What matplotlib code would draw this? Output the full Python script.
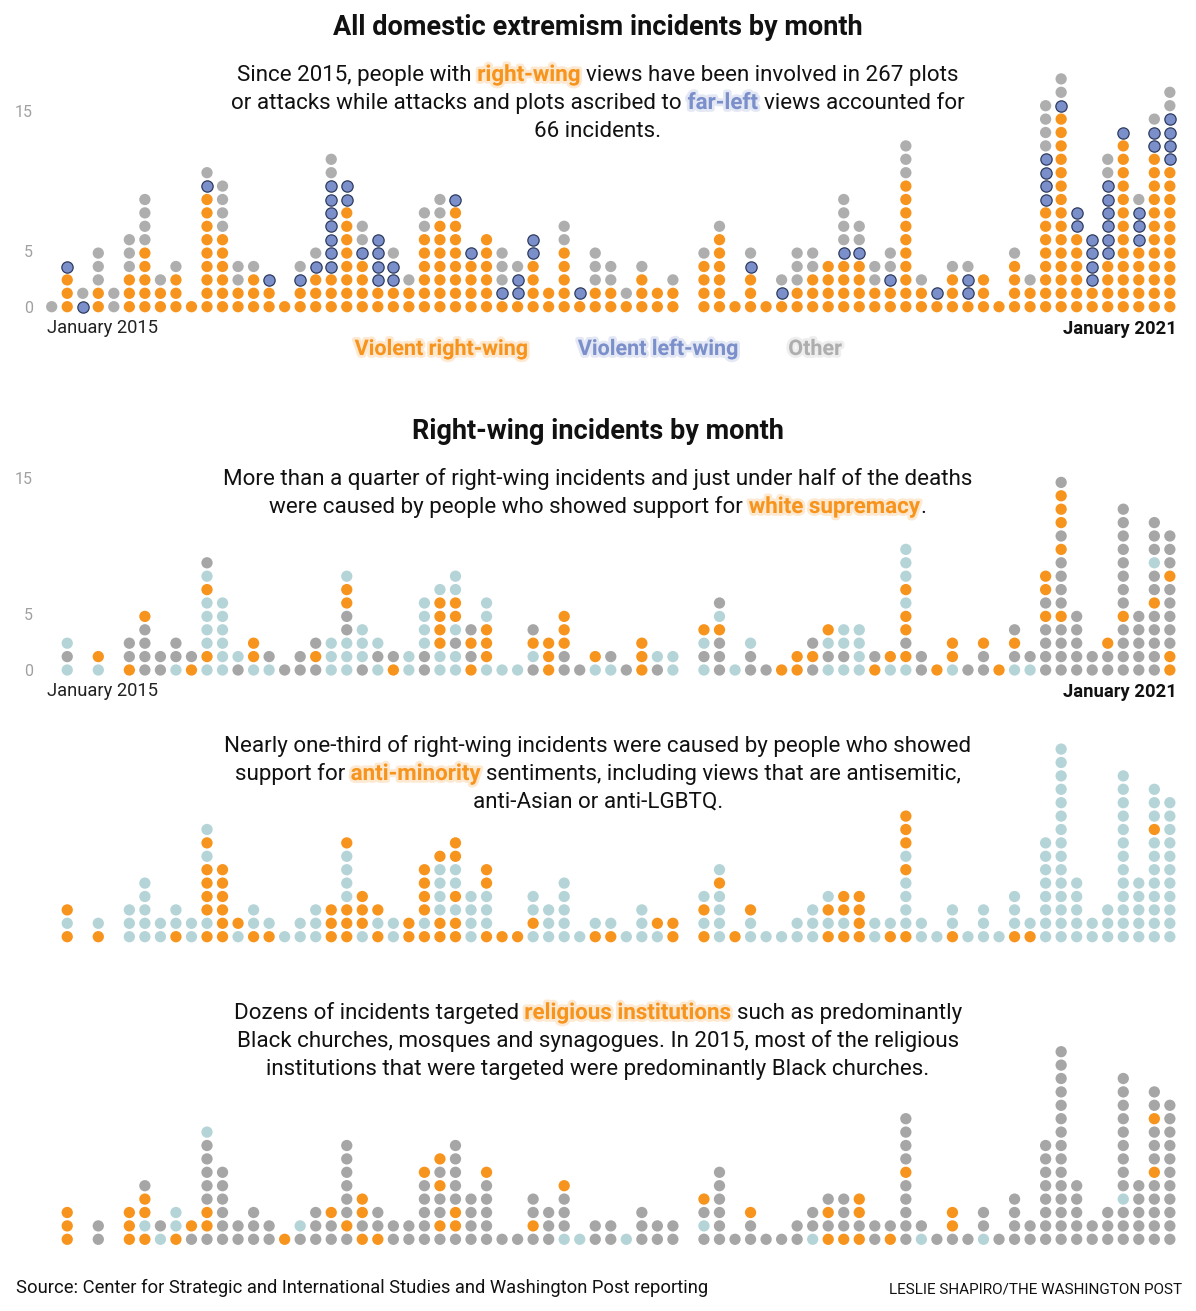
import re
import matplotlib
matplotlib.use("Agg")
import matplotlib.pyplot as plt
import matplotlib.patheffects as pe
import numpy as np
import pandas as pd

# ---------------- data ----------------
months = pd.date_range("2015-01-01", "2021-01-01", freq="MS")  # 73 months

# Panel 1: incidents per month by ideology
right_wing = [0, 3, 0, 2, 0, 3, 5, 2, 3, 1, 9, 6, 2, 3, 2, 1, 2, 3, 3, 8, 4, 2, 2, 2, 6,
              7, 8, 4, 6, 1, 1, 4, 2, 5, 1, 2, 2, 1, 3, 2, 2, 0, 4, 6, 1, 3, 1, 1, 2,
              3, 4, 4, 4, 2, 2, 10, 2, 1, 3, 1, 3, 1, 4, 2, 8, 15, 6, 2, 4, 13, 5, 12, 11]
left_wing = [0, 1, 1, 0, 0, 0, 0, 0, 0, 0, 1, 0, 0, 0, 1, 0, 1, 1, 7, 2, 1, 4, 2, 0, 0,
             0, 1, 1, 0, 1, 2, 2, 0, 0, 1, 0, 0, 0, 0, 0, 0, 0, 0, 0, 0, 1, 0, 1, 0,
             0, 0, 1, 1, 0, 1, 0, 0, 1, 0, 2, 0, 0, 0, 0, 4, 1, 2, 4, 6, 1, 3, 2, 4]
other = [1, 0, 1, 3, 2, 3, 4, 1, 1, 0, 1, 4, 2, 1, 0, 0, 1, 1, 2, 0, 2, 0, 1, 1, 2,
         2, 0, 0, 0, 3, 1, 0, 0, 2, 0, 3, 2, 1, 1, 0, 1, 0, 1, 1, 0, 1, 0, 1, 3,
         2, 0, 4, 2, 2, 2, 3, 1, 0, 1, 1, 0, 0, 1, 1, 4, 2, 0, 0, 2, 0, 1, 1, 2]

# Panels 2-4: right-wing incidents, one letter per incident (bottom to top)
# O = highlighted category, T = light teal, G = gray
white_supremacy_seq = [
    "", "TGT", "", "TO", "", "OGG", "GGGGO", "GG", "TGG", "OG", "TOTTTTOTG", "TTTTTT",
    "GT", "TOO", "TG", "G", "GG", "GOG", "TTT", "TTTGGOOT", "GTTT", "TGT", "OG", "TT",
    "GGTTTT", "TTOOOOT", "TTGTOOTT", "OGOG", "TOOOTT", "T", "T", "GTOG", "OOO", "GGOOO",
    "G", "TO", "TG", "G", "OOO", "GT", "TT", "", "TGTO", "GGGOTG", "T", "GGT", "G", "O",
    "OO", "GOG", "TGTO", "TGTT", "TTTT", "OG", "TO", "TOGOOTOTTT", "GG", "O", "TOO", "G",
    "GGO", "O", "TGOG", "TG", "GGGGOGOO", "GGGGOGGGGOGOOOG", "GGGGG", "GG", "GGO",
    "GGGGOGGGGGGGG", "GGGGG", "GGGGGOGGTGGG", "OOGGGGGOGGG"]
anti_minority_seq = [
    "", "OTO", "", "OT", "", "TTT", "TTTTT", "TT", "OTT", "TT", "OTOOOOTOT", "OOOOOO",
    "TO", "OTT", "OT", "T", "TT", "TTT", "OOO", "OOOTTTTO", "TOOO", "OTO", "TT", "OO",
    "OTOOOO", "OOTTTTO", "OOTOTTOO", "TTTT", "OTTTOO", "O", "O", "TOTT", "TTT", "TTTTT",
    "T", "OT", "OT", "T", "TTT", "TO", "OO", "", "OTOT", "TTTTOT", "O", "TTO", "T", "T",
    "TT", "TTT", "OTOT", "OTOO", "OOOO", "TT", "OT", "OTTTTOTOOO", "TT", "T", "OTT", "T",
    "TTT", "T", "OTTT", "OT", "TTTTTTTT", "TTTTTTTTTTTTTTT", "TTTTT", "TT", "TTT",
    "TTTTTTTTTTTTT", "TTTTT", "TTTTTTTTOTTT", "TTTTTTTTTTT"]
religious_seq = [
    "", "OOO", "", "GG", "", "OOO", "OTOOG", "TG", "OTT", "GO", "GOOGGGGGT", "GGGGGG",
    "GG", "GGG", "GG", "O", "GT", "GGG", "GGO", "GOGGGGGG", "OGOO", "OGG", "GG", "GG",
    "GGGGGO", "GOGGOGO", "GOOGGGGG", "GGGG", "GGGGGO", "G", "G", "GOGG", "GGG", "TGGGO",
    "T", "GG", "GG", "T", "GGG", "GG", "GG", "", "GTGO", "GGGGGG", "G", "GGO", "G", "G",
    "GG", "TGG", "OGOG", "OGGG", "OGOO", "GG", "OG", "GGGGGOGGGG", "TG", "G", "GOO", "G",
    "TGG", "G", "GGGG", "GG", "GGGGGGGG", "GGGGGGGGGGGGGGG", "GGGGG", "GG", "GGG",
    "GGGTGGGGGGGGG", "GGGGG", "GGGGGOGGGOGG", "GGGGGGGGGGG"]

ytick_vals = [0, 5, 15]

# ---------------- style ----------------
ORANGE = "#F7941D"
BLUE = "#7B8FCB"
BLUE_EDGE = "#2F3B5E"
GRAY = "#AEAEAE"
GRAY2 = "#A6A6A6"
TEAL = "#B5D4D7"
FONT = ["Roboto", "DejaVu Sans"]
BODY = 16.1

W, H = 1196, 1311
fig = plt.figure(figsize=(W / 100, H / 100), dpi=100)
fig.patch.set_facecolor("white")

X0, X1 = 40, 1186
COL0, DX, DY = 51.7, 15.53, 13.4
DOT_S = 66


def panel_axes(row0_px, top_px, bot_px):
    ax = fig.add_axes([X0 / W, 1 - bot_px / H, (X1 - X0) / W, (bot_px - top_px) / H])
    ax.set_xlim((X0 - COL0) / DX, (X1 - COL0) / DX)
    ax.set_ylim((row0_px - bot_px) / DY, (row0_px - top_px) / DY)
    for s in ax.spines.values():
        s.set_visible(False)
    ax.set_xticks([])
    ax.set_yticks([])
    ax.patch.set_alpha(0)
    return ax


def set_yt(ax, positions):
    ax.set_yticks(positions)
    ax.set_yticklabels([str(v) for v in ytick_vals], color="#A0A0A0",
                       fontsize=11.5, family=FONT)
    ax.tick_params(axis="y", length=0, pad=5)


renderer = fig.canvas.get_renderer()


def glow(col):
    return [pe.withStroke(linewidth=4, foreground=col, alpha=0.2)]


def text_w(s, size, weight="normal"):
    t = fig.text(0, 0, s, fontsize=size, family=FONT, fontweight=weight)
    w = t.get_window_extent(renderer).width
    t.remove()
    return w


def rich_line(y_px, markup, size, hl_color, cx=598):
    parts = [p for p in re.split(r"(\[[^\]]*\])", markup) if p != ""]
    sp = text_w("a a", size) - text_w("aa", size)
    items = []
    for p in parts:
        hl = p.startswith("[")
        s = p[1:-1] if hl else p
        lead = len(s) - len(s.lstrip(" "))
        trail = len(s) - len(s.rstrip(" "))
        core = s.strip(" ")
        wt = "bold" if hl else "normal"
        items.append((core, hl, lead, trail, text_w(core, size, wt) if core else 0))
    total = sum(i[4] + (i[2] + i[3]) * sp for i in items)
    x = cx - total / 2
    for core, hl, lead, trail, w in items:
        x += lead * sp
        if core:
            kw = dict(fontsize=size, family=FONT, ha="left", va="baseline")
            if hl:
                kw.update(color=hl_color, fontweight="bold", path_effects=glow(hl_color))
            else:
                kw.update(color="#111111")
            fig.text(x / W, 1 - y_px / H, core, **kw)
        x += w + trail * sp


def ftext(x_px, y_px, s, **kw):
    base = dict(family=FONT, va="baseline")
    base.update(kw)
    return fig.text(x_px / W, 1 - y_px / H, s, **base)


# ---------------- panel 1 ----------------
ax1 = panel_axes(306.7, 55, 318)
xi = np.arange(len(months))
for cat, vals, col, ec in [("r", right_wing, ORANGE, "none"),
                           ("l", left_wing, BLUE, BLUE_EDGE),
                           ("o", other, GRAY, "none")]:
    xs, ys = [], []
    for i in xi:
        if cat == "r":
            start = 0
        elif cat == "l":
            start = right_wing[i]
        else:
            start = right_wing[i] + left_wing[i]
        for k in range(vals[i]):
            xs.append(i)
            ys.append(start + k)
    ax1.scatter(xs, ys, s=DOT_S, c=col, edgecolors=ec,
                linewidths=0.9 if ec != "none" else 0, zorder=3)
set_yt(ax1, [0, 4.16, 14.6])


def seq_panel(ax, seq):
    cmap = {"O": ORANGE, "T": TEAL, "G": GRAY2}
    xs, ys, cs = [], [], []
    for i, s in enumerate(seq):
        for k, ch in enumerate(s):
            xs.append(i)
            ys.append(k)
            cs.append(cmap[ch])
    ax.scatter(xs, ys, s=DOT_S, c=cs, edgecolors="none", zorder=3)


ax2 = panel_axes(670, 460, 682)
seq_panel(ax2, white_supremacy_seq)
set_yt(ax2, [0, 4.18, 14.33])

ax3 = panel_axes(936.7, 720, 948)
seq_panel(ax3, anti_minority_seq)

ax4 = panel_axes(1239.3, 1030, 1252)
seq_panel(ax4, religious_seq)

# ---------------- text ----------------
ftext(598, 35, "All domestic extremism incidents by month", ha="center",
      fontsize=19.5, fontweight="bold", color="#111111")
rich_line(81, "Since 2015, people with [right-wing] views have been involved in 267 plots", BODY, ORANGE)
rich_line(109, "or attacks while attacks and plots ascribed to [far-left] views accounted for", BODY, BLUE)
rich_line(137, "66 incidents.", BODY, ORANGE)

ftext(47, 333, "January 2015", ha="left", fontsize=13.2, color="#222222")
ftext(1177, 334, "January 2021", ha="right", fontsize=13.2, fontweight="bold", color="#111111")

for cx, lab, col in [(441, "Violent right-wing", ORANGE), (658, "Violent left-wing", BLUE),
                     (815, "Other", GRAY)]:
    ftext(cx, 355, lab, ha="center", fontsize=15.5, fontweight="bold", color=col,
          path_effects=glow(col))

ftext(598, 439, "Right-wing incidents by month", ha="center",
      fontsize=19.5, fontweight="bold", color="#111111")
rich_line(485, "More than a quarter of right-wing incidents and just under half of the deaths", BODY, ORANGE)
rich_line(513, "were caused by people who showed support for [white supremacy].", BODY, ORANGE)

ftext(47, 696, "January 2015", ha="left", fontsize=13.2, color="#222222")
ftext(1177, 697, "January 2021", ha="right", fontsize=13.2, fontweight="bold", color="#111111")

rich_line(752, "Nearly one-third of right-wing incidents were caused by people who showed", BODY, ORANGE)
rich_line(780, "support for [anti-minority] sentiments, including views that are antisemitic,", BODY, ORANGE)
rich_line(808, "anti-Asian or anti-LGBTQ.", BODY, ORANGE)

rich_line(1019, "Dozens of incidents targeted [religious institutions] such as predominantly", BODY, ORANGE)
rich_line(1047, "Black churches, mosques and synagogues. In 2015, most of the religious", BODY, ORANGE)
rich_line(1075, "institutions that were targeted were predominantly Black churches.", BODY, ORANGE)

ftext(16, 1293, "Source: Center for Strategic and International Studies and Washington Post reporting",
      ha="left", fontsize=13.2, color="#111111")
ftext(1182, 1293, "LESLIE SHAPIRO/THE WASHINGTON POST", ha="right", fontsize=11, color="#111111")

fig.savefig("out.png", dpi=100, facecolor="white")
